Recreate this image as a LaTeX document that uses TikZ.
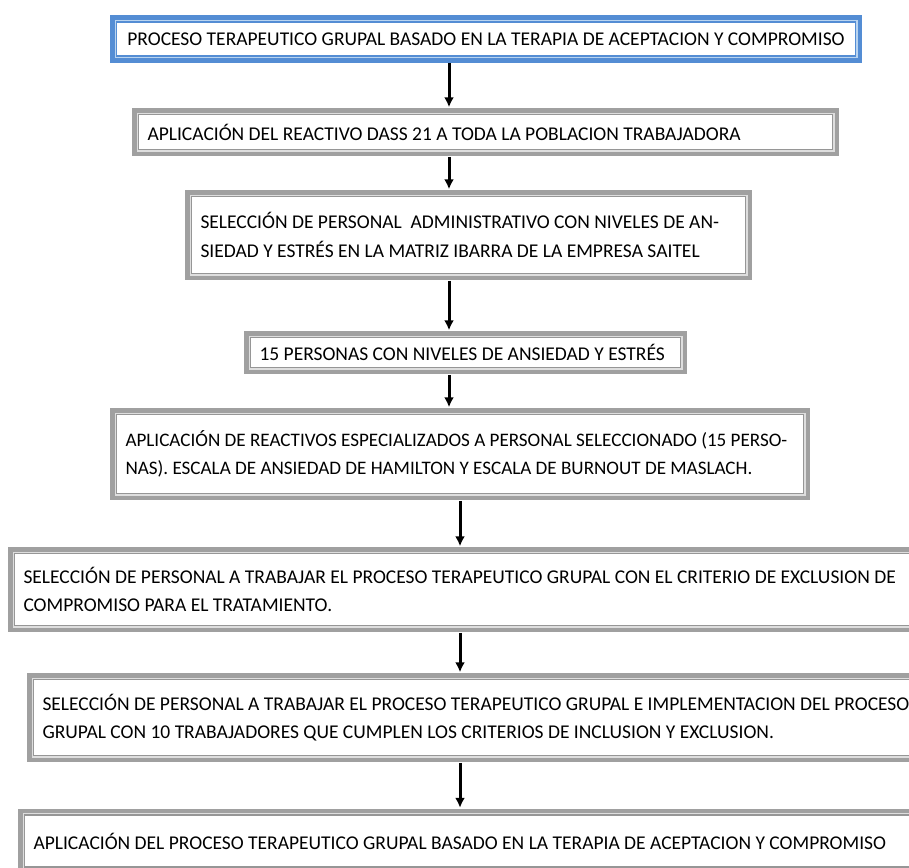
\documentclass[tikz,border=0pt]{standalone}
\usepackage{fontspec}
\setmainfont{Carlito}
\usetikzlibrary{arrows.meta}

\definecolor{framegray}{RGB}{160,160,160}
\definecolor{palegray}{RGB}{222,222,222}
\definecolor{linegray}{RGB}{150,150,150}
\definecolor{frameblue}{RGB}{84,141,212}
\definecolor{paleblue}{RGB}{185,212,240}

\newcommand{\stagefont}{\fontsize{19.5pt}{28.5pt}\selectfont}

\tikzset{
	framed/.style 2 args = {preaction = {draw = #1, line width = 13pt}, preaction = {draw = #2, line width = 4pt}},
	stagebase/.style = {fill = white, line width = 1.5pt, inner xsep = 9pt, inner ysep = 0pt, align = flush left, font = \stagefont},
	stage/.style = {stagebase, framed = {framegray}{palegray}, draw = linegray},
	link/.style = {->, line width = 3pt, shorten <= 6.5pt, shorten >= 6.5pt}
}

\begin{document}
\begin{tikzpicture}[x = 1pt, y = -1pt, > = {Latex[length = 10pt, width = 10pt]}]

	% Page area

	\useasboundingbox (0, 0) rectangle (909, 867);
	\clip (0, 0) rectangle (909, 867);

	% Stages of the process

	\node [stagebase, framed = {frameblue}{paleblue}, draw = frameblue, align = flush center, inner xsep = 4pt, text width = 731pt, minimum height = 34pt] (s1) at (486, 39) {PROCESO TERAPEUTICO GRUPAL BASADO EN LA TERAPIA DE ACEPTACION Y COMPROMISO};
	\node [stage, text width = 676pt, minimum height = 35pt] (s2) at (485.5, 132) {APLICACIÓN DEL REACTIVO DASS 21 A TODA LA POBLACION TRABAJADORA};
	\node [stage, text width = 536pt, minimum height = 77pt] (s3) at (468.5, 235) {SELECCIÓN DE PERSONAL~ ADMINISTRATIVO CON NIVELES DE AN-\\SIEDAD Y ESTRÉS EN LA MATRIZ IBARRA DE LA EMPRESA SAITEL};
	\node [stage, text width = 412pt, minimum height = 30pt] (s4) at (465.5, 352.5) {15 PERSONAS CON NIVELES DE ANSIEDAD Y ESTRÉS};
	\node [stage, font = \fontsize{19.1pt}{28.5pt}\selectfont, text width = 669pt, minimum height = 79pt] (s5) at (460, 454) {APLICACIÓN DE REACTIVOS ESPECIALIZADOS A PERSONAL SELECCIONADO (15 PERSO-\\NAS). ESCALA DE ANSIEDAD DE HAMILTON Y ESCALA DE BURNOUT DE MASLACH.};
	\node [stage, text width = 886pt, minimum height = 72pt] (s6) at (466.5, 589.5) {SELECCIÓN DE PERSONAL A TRABAJAR EL PROCESO TERAPEUTICO GRUPAL CON EL CRITERIO DE EXCLUSION DE\\COMPROMISO PARA EL TRATAMIENTO.};
	\node [stage, text width = 867pt, minimum height = 76pt] (s7) at (476, 717.5) {SELECCIÓN DE PERSONAL A TRABAJAR EL PROCESO TERAPEUTICO GRUPAL E IMPLEMENTACION DEL PROCESO\\GRUPAL CON 10 TRABAJADORES QUE CUMPLEN LOS CRITERIOS DE INCLUSION Y EXCLUSION.};
	\node [stage, text width = 876pt, minimum height = 52pt] (s8) at (471.5, 841) {APLICACIÓN DEL PROCESO TERAPEUTICO GRUPAL BASADO EN LA TERAPIA DE ACEPTACION Y COMPROMISO};

	% Columns of the arrows

	\coordinate (ca) at (449, 0);
	\coordinate (cb) at (460, 0);

	% Arrows between stages

	\foreach \a/\b/\c in {s1/s2/ca, s2/s3/ca, s3/s4/ca, s4/s5/ca, s5/s6/cb, s6/s7/cb, s7/s8/cb}
	{
		\draw [link] (\a.south -| \c) -- (\b.north -| \c);
	}

\end{tikzpicture}
\end{document}
